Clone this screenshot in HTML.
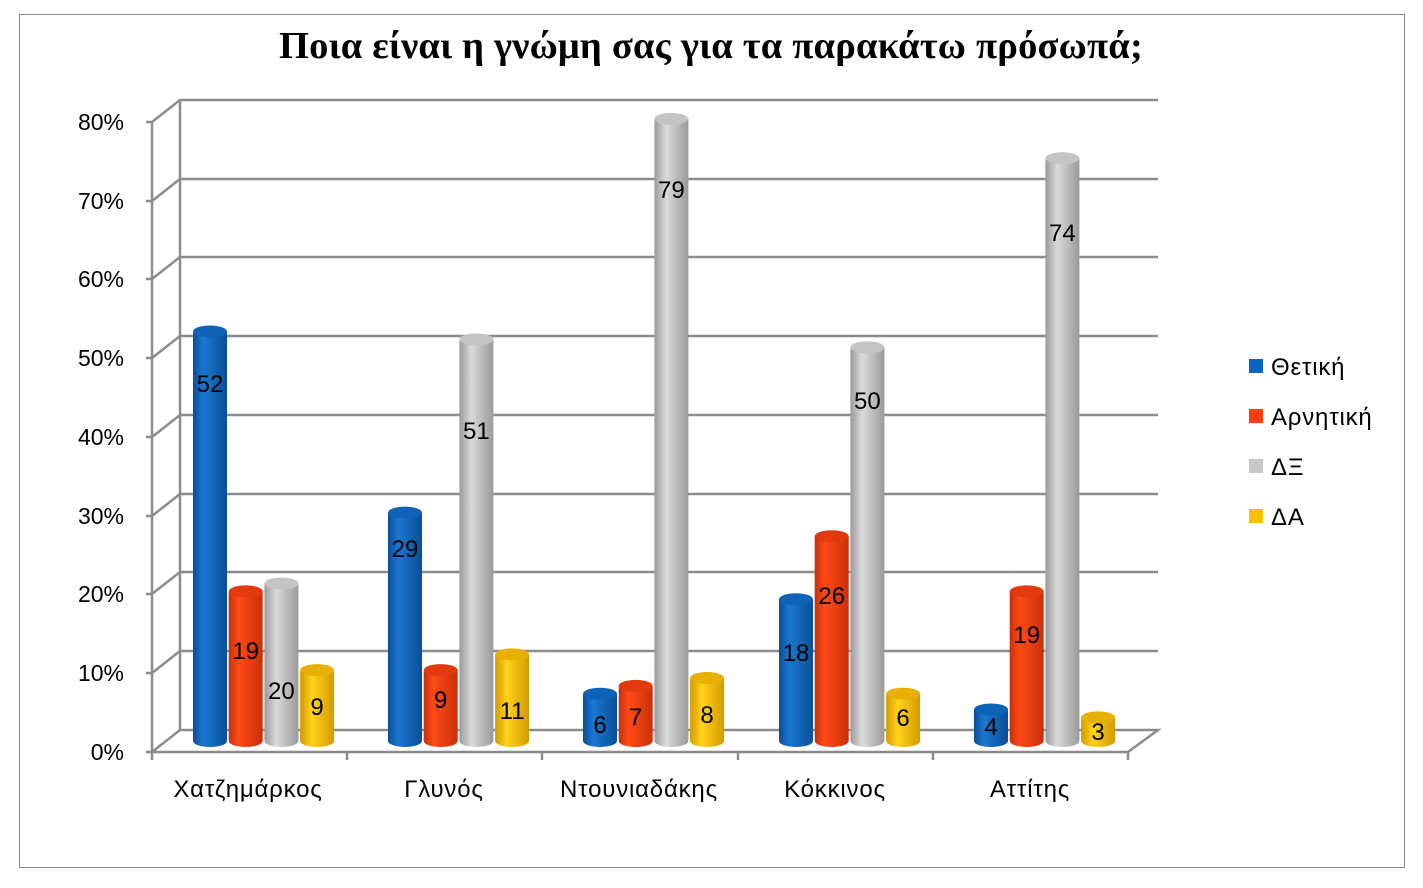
<!DOCTYPE html>
<html><head><meta charset="utf-8"><style>
body{margin:0;background:#fff;}
svg{display:block;font-family:"Liberation Sans",sans-serif;}
</style></head><body>
<svg width="1423" height="888" viewBox="0 0 1423 888">
<defs>
<linearGradient id="gb" x1="0" x2="1"><stop offset="0" stop-color="#0a4e9a"/><stop offset="0.3" stop-color="#1a78d0"/><stop offset="1" stop-color="#0a4f96"/></linearGradient>
<linearGradient id="gr" x1="0" x2="1"><stop offset="0" stop-color="#c8300a"/><stop offset="0.3" stop-color="#ff4a16"/><stop offset="1" stop-color="#c8300a"/></linearGradient>
<linearGradient id="gg" x1="0" x2="1"><stop offset="0" stop-color="#9a9a9a"/><stop offset="0.35" stop-color="#dadada"/><stop offset="1" stop-color="#9a9a9a"/></linearGradient>
<linearGradient id="gy" x1="0" x2="1"><stop offset="0" stop-color="#d49a00"/><stop offset="0.35" stop-color="#ffd21a"/><stop offset="1" stop-color="#d49a00"/></linearGradient>
</defs>
<rect x="19.5" y="14.5" width="1385" height="853" fill="#fff" stroke="#888" stroke-width="1"/>
<text x="711" y="58" text-anchor="middle" font-family="Liberation Serif,serif" font-weight="bold" font-size="38.5" letter-spacing="0.2">Ποια είναι η γνώμη σας για τα παρακάτω πρόσωπά;</text>
<g stroke="#8c8c8c" stroke-width="2.5" fill="none">
<path d="M152 122 V752 H1128 L1158 730 H180 L152 752"/>
<path d="M180 100 V730"/>
<path d="M152 122 L180 100 H1158 M152 201 L180 179 H1158 M152 279 L180 257 H1158 M152 358 L180 336 H1158 M152 437 L180 415 H1158 M152 516 L180 494 H1158 M152 594 L180 572 H1158 M152 673 L180 651 H1158"/>
<path d="M146 122 H152 M146 201 H152 M146 279 H152 M146 358 H152 M146 437 H152 M146 516 H152 M146 594 H152 M146 673 H152 M146 752 H152"/>
<path d="M152 752 V760 M347 752 V760 M542 752 V760 M738 752 V760 M933 752 V760 M1128 752 V760"/>
</g>
<g font-size="23" text-anchor="end" fill="#000">
<text x="124" y="130">80%</text><text x="124" y="209">70%</text><text x="124" y="287">60%</text><text x="124" y="366">50%</text><text x="124" y="445">40%</text><text x="124" y="524">30%</text><text x="124" y="602">20%</text><text x="124" y="681">10%</text><text x="124" y="760">0%</text>
</g>
<g font-size="24" letter-spacing="0.8" text-anchor="middle">
<text x="248" y="797">Χατζημάρκος</text><text x="444" y="797">Γλυνός</text><text x="639" y="797">Ντουνιαδάκης</text><text x="835" y="797">Κόκκινος</text><text x="1030" y="797">Αττίτης</text>
</g>
<g id="bars"></g>
<g font-size="24" text-anchor="middle" id="labels"></g>
<g font-size="24" letter-spacing="0.8">
<rect x="1249" y="359" width="14" height="14" fill="#0a64c0"/><text x="1271" y="375">Θετική</text>
<rect x="1249" y="409" width="14" height="14" fill="#ff3c0a"/><text x="1271" y="425">Αρνητική</text>
<rect x="1249" y="459" width="14" height="14" fill="#c8c8c8"/><text x="1271" y="475">ΔΞ</text>
<rect x="1249" y="509" width="14" height="14" fill="#ffc000"/><text x="1271" y="525">ΔΑ</text>
</g>
<script>
(function(){
var ns="http://www.w3.org/2000/svg";
var data=[[52,19,20,9],[29,9,51,11],[6,7,79,8],[18,26,50,6],[4,19,74,3]];
var fills=["url(#gb)","url(#gr)","url(#gg)","url(#gy)"];
var tops=["#0e63b8","#e23a0e","#c4c4c4","#e8b000"];
var starts=[193,388,583,779,974];
var lab=[[384,651,691,707],[549,700,431,711],[725,717,190,715],[653,596,401,718],[727,635,233,732]];
var g=document.getElementById("bars"),L=document.getElementById("labels");
function el(t,a,p){var e=document.createElementNS(ns,t);for(var k in a)e.setAttribute(k,a[k]);p.appendChild(e);return e;}
for(var i=0;i<5;i++)for(var j=0;j<4;j++){
 var x=starts[i]+j*35.7,w=34,cx=x+w/2,base=741,ty=base-data[i][j]*7.875,ry=6;
 el("path",{d:"M"+x+" "+ty+" V"+base+" A"+(w/2)+" "+ry+" 0 0 0 "+(x+w)+" "+base+" V"+ty+" Z",fill:fills[j]},g);
 el("ellipse",{cx:cx,cy:ty,rx:w/2,ry:ry,fill:tops[j]},g);
 var t=el("text",{x:cx,y:lab[i][j]+8},L);t.textContent=data[i][j];
}
})();
</script>
</svg>
</body></html>
